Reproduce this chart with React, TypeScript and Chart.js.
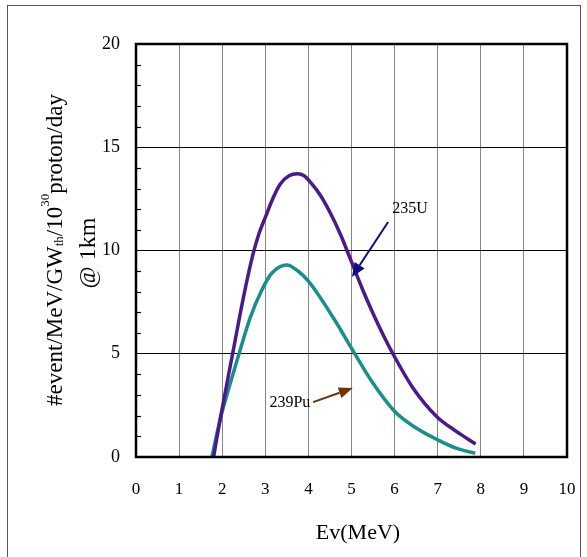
import React, { useEffect, useRef } from "react";
import { Chart, registerables } from "chart.js";

Chart.register(...registerables);

// ---- data ----
const energyU235 = [1.8, 1.95, 2.26, 2.5, 2.7, 2.85, 3.0, 3.15, 3.34, 3.55, 3.75, 3.9, 4.05, 4.27, 4.5, 4.75, 5.0, 5.25, 5.5, 5.75, 6.0, 6.43, 6.98, 7.44, 7.88];
const fluxU235 = [0, 1.8, 5.2, 7.8, 9.7, 10.8, 11.6, 12.4, 13.2, 13.62, 13.72, 13.62, 13.3, 12.7, 11.85, 10.75, 9.45, 8.15, 6.95, 5.85, 4.85, 3.33, 1.95, 1.23, 0.63];
const energyPu239 = [1.76, 1.95, 2.17, 2.39, 2.65, 2.92, 3.15, 3.5, 3.75, 4.0, 4.27, 4.65, 5.02, 5.5, 6.01, 6.51, 7.01, 7.44, 7.87];
const fluxPu239 = [0, 1.8, 3.45, 5.0, 6.75, 8.09, 8.9, 9.3, 9.02, 8.52, 7.74, 6.5, 5.2, 3.57, 2.19, 1.39, 0.82, 0.42, 0.18];

const xTicks = [0, 1, 2, 3, 4, 5, 6, 7, 8, 9, 10];
const yTicks = [0, 5, 10, 15, 20];
const xTitle = "Ev(MeV)";
const yTitleParts = ["#event/MeV/GW", "th", "/10", "30", "proton/day"];
const yTitleLine2 = "@ 1km";

// annotations: label position and arrow (from -> to), in data units
const labelU235 = { text: "235U", x: 6.36, y: 12.0 };
const arrowU235 = { x1: 5.85, y1: 11.38, x2: 5.01, y2: 8.72 };
const labelPu239 = { text: "239Pu", x: 3.57, y: 2.61 };
const arrowPu239 = { x1: 4.11, y1: 2.66, x2: 5.03, y2: 3.34 };

const FONT = '"Liberation Serif", "Times New Roman", serif';
const COLOR_U = "#4a1a8c";
const COLOR_PU = "#17908b";

function drawArrow(ctx: CanvasRenderingContext2D, x1: number, y1: number, x2: number, y2: number, color: string, headLen: number, headW: number) {
  const ang = Math.atan2(y2 - y1, x2 - x1);
  const bx = x2 - headLen * Math.cos(ang);
  const by = y2 - headLen * Math.sin(ang);
  ctx.save();
  ctx.strokeStyle = color;
  ctx.fillStyle = color;
  ctx.lineWidth = 2;
  ctx.beginPath();
  ctx.moveTo(x1, y1);
  ctx.lineTo(bx, by);
  ctx.stroke();
  ctx.beginPath();
  ctx.moveTo(x2, y2);
  ctx.lineTo(bx + (headW / 2) * Math.sin(ang), by - (headW / 2) * Math.cos(ang));
  ctx.lineTo(bx - (headW / 2) * Math.sin(ang), by + (headW / 2) * Math.cos(ang));
  ctx.closePath();
  ctx.fill();
  ctx.restore();
}

const decorPlugin = {
  id: "decor",
  afterDatasetsDraw(chart: any) {
    const { ctx, chartArea, scales } = chart;
    const ys = scales.y;
    ctx.save();
    // plot frame
    ctx.strokeStyle = "#000";
    ctx.lineWidth = 2.5;
    ctx.strokeRect(chartArea.left, chartArea.top, chartArea.right - chartArea.left, chartArea.bottom - chartArea.top);
    // minor ticks on y axis
    ctx.lineWidth = 1.2;
    for (let v = 1; v < 20; v++) {
      if (v % 5 === 0) continue;
      const py = Math.round(ys.getPixelForValue(v)) + 0.5;
      ctx.beginPath();
      ctx.moveTo(chartArea.left, py);
      ctx.lineTo(chartArea.left + 5, py);
      ctx.stroke();
    }
    ctx.restore();
  },
  afterDraw(chart: any) {
    const { ctx, scales } = chart;
    const xs = scales.x;
    const ys = scales.y;
    ctx.save();
    // outer image frame
    ctx.strokeStyle = "#555";
    ctx.lineWidth = 1;
    ctx.strokeRect(7.5, 5.5, 573, 560);

    // x title
    ctx.fillStyle = "#000";
    ctx.font = `22px ${FONT}`;
    ctx.textAlign = "center";
    ctx.textBaseline = "middle";
    ctx.fillText(xTitle, 358, 533);

    // y title, rotated, with subscript and superscript
    const sizes = [23, 13, 23, 13, 23];
    const shifts = [0, 1, 0, -13, 0];
    ctx.save();
    ctx.translate(62, 250);
    ctx.rotate(-Math.PI / 2);
    ctx.textAlign = "left";
    ctx.textBaseline = "alphabetic";
    let total = 0;
    const widths: number[] = [];
    yTitleParts.forEach((t, i) => {
      ctx.font = `${sizes[i]}px ${FONT}`;
      const w = ctx.measureText(t).width;
      widths.push(w);
      total += w;
    });
    let cx = -total / 2;
    yTitleParts.forEach((t, i) => {
      ctx.font = `${sizes[i]}px ${FONT}`;
      ctx.fillText(t, cx, shifts[i]);
      cx += widths[i];
    });
    ctx.restore();

    ctx.save();
    ctx.translate(95, 253);
    ctx.rotate(-Math.PI / 2);
    ctx.font = `24px ${FONT}`;
    ctx.textAlign = "center";
    ctx.textBaseline = "alphabetic";
    ctx.fillText(yTitleLine2, 0, 0);
    ctx.restore();

    // annotations
    ctx.font = `16px ${FONT}`;
    ctx.textAlign = "center";
    ctx.textBaseline = "middle";
    ctx.fillStyle = "#000";
    ctx.fillText(labelU235.text, xs.getPixelForValue(labelU235.x), ys.getPixelForValue(labelU235.y));
    ctx.fillText(labelPu239.text, xs.getPixelForValue(labelPu239.x), ys.getPixelForValue(labelPu239.y));
    drawArrow(
      ctx,
      xs.getPixelForValue(arrowU235.x1), ys.getPixelForValue(arrowU235.y1),
      xs.getPixelForValue(arrowU235.x2), ys.getPixelForValue(arrowU235.y2),
      "#0d0d80", 14, 12
    );
    drawArrow(
      ctx,
      xs.getPixelForValue(arrowPu239.x1), ys.getPixelForValue(arrowPu239.y1),
      xs.getPixelForValue(arrowPu239.x2), ys.getPixelForValue(arrowPu239.y2),
      "#6b3505", 14, 11
    );
    ctx.restore();
  },
};

export default function App() {
  const canvasRef = useRef<HTMLCanvasElement | null>(null);

  useEffect(() => {
    const canvas = canvasRef.current;
    if (!canvas) return;
    const chart = new Chart(canvas, {
      type: "line",
      data: {
        datasets: [
          {
            label: "235U",
            data: energyU235.map((e, i) => ({ x: e, y: fluxU235[i] })),
            borderColor: COLOR_U,
            borderWidth: 3.5,
            pointRadius: 0,
            cubicInterpolationMode: "monotone",
            fill: false,
          },
          {
            label: "239Pu",
            data: energyPu239.map((e, i) => ({ x: e, y: fluxPu239[i] })),
            borderColor: COLOR_PU,
            borderWidth: 3.5,
            pointRadius: 0,
            cubicInterpolationMode: "monotone",
            fill: false,
          },
        ],
      },
      options: {
        animation: false,
        responsive: true,
        maintainAspectRatio: false,
        layout: { padding: { left: 0, right: 20, top: 44, bottom: 0 } },
        plugins: { legend: { display: false }, tooltip: { enabled: false } },
        scales: {
          x: {
            type: "linear",
            min: xTicks[0],
            max: xTicks[xTicks.length - 1],
            afterBuildTicks: (s: any) => { s.ticks = xTicks.map((v) => ({ value: v })); },
            afterFit: (s: any) => { s.height = 100; },
            ticks: { color: "#000", font: { family: FONT, size: 17 }, padding: 0, maxRotation: 0 },
            grid: { color: "#858585", lineWidth: 1, drawTicks: true, tickLength: 22, tickColor: "rgba(0,0,0,0)" },
            border: { display: false },
          },
          y: {
            type: "linear",
            min: yTicks[0],
            max: yTicks[yTicks.length - 1],
            afterBuildTicks: (s: any) => { s.ticks = yTicks.map((v) => ({ value: v })); },
            afterFit: (s: any) => { s.width = 136; },
            ticks: { color: "#000", font: { family: FONT, size: 18 }, padding: 0 },
            grid: { color: "#000", lineWidth: 1, drawTicks: true, tickLength: 16, tickColor: "rgba(0,0,0,0)" },
            border: { display: false },
          },
        },
      },
      plugins: [decorPlugin],
    });
    return () => chart.destroy();
  }, []);

  return (
    <div style={{ position: "absolute", left: 0, top: 0, width: 587, height: 557, background: "#fff" }}>
      <canvas ref={canvasRef} />
    </div>
  );
}
